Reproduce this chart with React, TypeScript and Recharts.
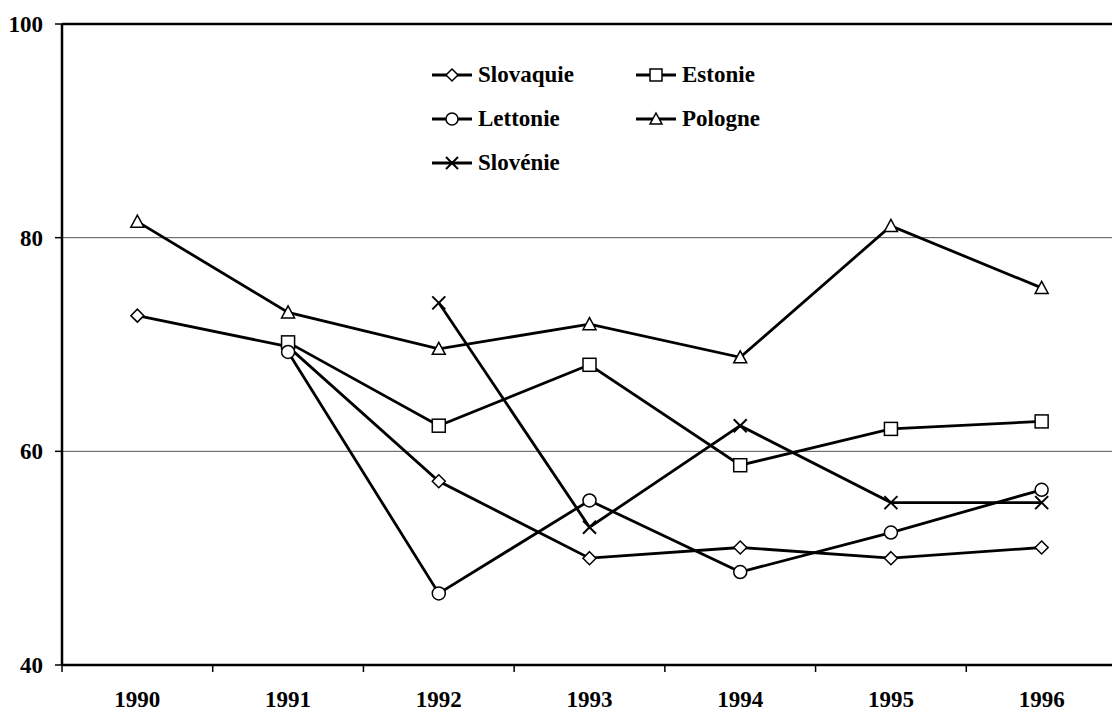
import { LineChart, Line, XAxis, YAxis, ReferenceLine, Legend } from "recharts";

const years = [1990, 1991, 1992, 1993, 1994, 1995, 1996];
const slovaquie = [72.7, 69.8, 57.2, 50.0, 51.0, 50.0, 51.0];
const estonie = [null, 70.2, 62.4, 68.1, 58.7, 62.1, 62.8];
const lettonie = [null, 69.3, 46.7, 55.4, 48.7, 52.4, 56.4];
const pologne = [81.5, 73.0, 69.6, 71.9, 68.8, 81.1, 75.3];
const slovenie = [null, null, 73.9, 52.9, 62.4, 55.2, 55.2];
const yTicks = [40, 60, 80, 100];
const gridValues = [60, 80];

const series = [
  { key: "slovaquie", name: "Slovaquie", values: slovaquie, shape: "diamond" },
  { key: "estonie", name: "Estonie", values: estonie, shape: "square" },
  { key: "lettonie", name: "Lettonie", values: lettonie, shape: "circle" },
  { key: "pologne", name: "Pologne", values: pologne, shape: "triangle" },
  { key: "slovenie", name: "Slovénie", values: slovenie, shape: "cross" },
];

const data = years.map((year, i) => {
  const row: any = { year };
  series.forEach((s) => (row[s.key] = s.values[i]));
  return row;
});

const FONT = '"Liberation Serif", "Times New Roman", serif';
const FONT_SIZE = 23;

function Marker({ shape, cx, cy, s = 6.5 }: any) {
  const common = { fill: "#fff", stroke: "#000", strokeWidth: 1.5 };
  switch (shape) {
    case "diamond":
      return (
        <polygon
          points={`${cx},${cy - s} ${cx + s},${cy} ${cx},${cy + s} ${cx - s},${cy}`}
          {...common}
        />
      );
    case "square":
      return <rect x={cx - s} y={cy - s} width={2 * s} height={2 * s} {...common} />;
    case "circle":
      return <circle cx={cx} cy={cy} r={s} {...common} />;
    case "triangle":
      return (
        <polygon
          points={`${cx},${cy - s} ${cx + s},${cy + s * 0.85} ${cx - s},${cy + s * 0.85}`}
          {...common}
        />
      );
    default:
      return (
        <g stroke="#000" strokeWidth={2}>
          <line x1={cx - s} y1={cy - s} x2={cx + s} y2={cy + s} />
          <line x1={cx - s} y1={cy + s} x2={cx + s} y2={cy - s} />
        </g>
      );
  }
}

function XTick(props: any) {
  const { x, y, payload, index, width } = props;
  const half = width / years.length / 2;
  const axisY = y - 7 - 19;
  return (
    <g>
      <line x1={x - half} y1={axisY} x2={x - half} y2={axisY + 7} stroke="#000" strokeWidth={1.5} />
      {index === years.length - 1 && (
        <line x1={x + half} y1={axisY} x2={x + half} y2={axisY + 7} stroke="#000" strokeWidth={1.5} />
      )}
      <text x={x} y={y} dy="0.71em" textAnchor="middle" fontFamily={FONT} fontWeight="bold" fontSize={FONT_SIZE} fill="#000">
        {payload.value}
      </text>
    </g>
  );
}

function renderLegend() {
  return (
    <div
      style={{
        display: "grid",
        gridTemplateColumns: "204px 200px",
        fontFamily: FONT,
        fontWeight: "bold",
        fontSize: FONT_SIZE,
        color: "#000",
      }}
    >
      {series.map((s) => (
        <div key={s.key} style={{ display: "flex", alignItems: "center", height: 44 }}>
          <svg width={40} height={20} style={{ marginRight: 6 }}>
            <line x1={0} y1={10} x2={40} y2={10} stroke="#000" strokeWidth={2.8} />
            <Marker shape={s.shape} cx={20} cy={10} s={6} />
          </svg>
          <span>{s.name}</span>
        </div>
      ))}
    </div>
  );
}

export default function App() {
  return (
    <LineChart width={1112} height={712} data={data} margin={{ top: 16, right: 3, bottom: 5, left: 4 }}>
      {gridValues.map((v) => (
        <ReferenceLine key={v} y={v} stroke="#555" strokeWidth={1} />
      ))}
      <ReferenceLine y={100} stroke="#000" strokeWidth={2.5} />
      <ReferenceLine x={1996.5} stroke="#000" strokeWidth={2.5} />
      <XAxis
        dataKey="year"
        type="number"
        domain={[1989.5, 1996.5]}
        ticks={years}
        axisLine={{ stroke: "#000", strokeWidth: 2.5 }}
        tickLine={false}
        tickSize={7}
        tickMargin={19}
        height={50}
        tick={<XTick />}
        interval={0}
      />
      <YAxis
        domain={[40, 100]}
        ticks={yTicks}
        width={50}
        axisLine={{ stroke: "#000", strokeWidth: 2.5 }}
        tickLine={{ stroke: "#000", strokeWidth: 1.5 }}
        tickSize={7}
        tickMargin={12}
        tick={{ fontFamily: FONT, fontWeight: "bold", fontSize: FONT_SIZE, fill: "#000" }}
      />
      <Legend
        content={renderLegend}
        verticalAlign="middle"
        layout="horizontal"
        wrapperStyle={{ position: "absolute", left: 424, top: 45, width: 420, height: 132 }}
      />
      {series.map((s) => (
        <Line
          key={s.key}
          dataKey={s.key}
          name={s.name}
          stroke="#000"
          strokeWidth={2.8}
          isAnimationActive={false}
          dot={(p: any) =>
            p.cx == null || p.cy == null || p.value == null ? (
              <g key={`${s.key}-${p.index}`} />
            ) : (
              <Marker key={`${s.key}-${p.index}`} shape={s.shape} cx={p.cx} cy={p.cy} />
            )
          }
          activeDot={false}
        />
      ))}
    </LineChart>
  );
}
